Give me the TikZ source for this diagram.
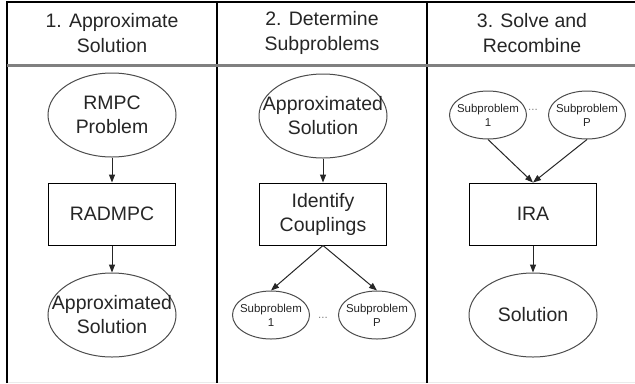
\documentclass[tikz,border=0pt]{standalone}
\usepackage{fontspec}
\setmainfont{Liberation Sans}
\usetikzlibrary{shapes.geometric,arrows.meta}
\begin{document}
\begin{tikzpicture}[x=0.75pt,y=-0.75pt,
  ell/.style={ellipse,draw=black!70,line width=0.75pt,inner sep=0pt,minimum width=96pt,minimum height=63pt},
  sell/.style={ellipse,draw=black!70,line width=0.75pt,inner sep=0pt,minimum width=57.75pt,minimum height=36pt},
  boxn/.style={rectangle,draw=black,line width=0.75pt,minimum width=95.25pt,minimum height=46.5pt,inner sep=0pt,font=\fontsize{14.6}{18}\selectfont,text=black!85,align=center},
  big/.style={font=\fontsize{14.6}{18}\selectfont,text=black!85,align=center,inner sep=0pt},
  head/.style={font=\fontsize{14.6}{19}\selectfont,text=black!85,align=center,inner sep=0pt},
  small/.style={font=\fontsize{8.6}{10.5}\selectfont,text=black!85,align=center,inner sep=0pt},
  dots/.style={font=\fontsize{8.6}{10.5}\selectfont,text=black!50,inner sep=0pt},
  arr/.style={-{Triangle[length=6pt,width=4.5pt]},line width=0.75pt,draw=black!85},
  frame/.style={line width=1pt,draw=black},
]
\useasboundingbox (0,0) rectangle (635,383);
\fill[white] (0,0) rectangle (635,383);
% frame
\draw[black!8,line width=1pt] (7,382.5) -- (635,382.5);
\draw[frame] (7,383) -- (7,2) -- (635,2);
\draw[frame] (217,2) -- (217,383);
\draw[frame] (427,2) -- (427,383);
\draw[black!50,line width=2.25pt] (7,65.5) -- (635,65.5);
% headers
\node[head] (h1) at (112,33) {1. Approximate\\Solution};
\node[head] (h2) at (322,33) {2. Determine\\Subproblems};
\node[head] (h3) at (532,33) {3. Solve and\\Recombine};
% column 1
\node[ell,label={[big]center:RMPC\\Problem}] (rp) at (112,115) {};
\node[boxn] (rad) at (112,214) {RADMPC};
\node[ell,label={[big]center:Approximated\\Solution}] (as1) at (112,315) {};
\draw[arr] (rp) -- (rad);
\draw[arr] (rad) -- (as1);
% column 2
\node[ell,label={[big]center:Approximated\\Solution}] (as2) at (323,116) {};
\node[boxn] (ic) at (323,214) {Identify\\Couplings};
\node[sell,label={[small]center:Subproblem\\1}] (s1a) at (271,315) {};
\node[sell,label={[small]center:Subproblem\\P}] (spa) at (377,315) {};
\node[dots] (d2) at (323,318) {...};
\draw[arr] (as2) -- (ic);
\draw[arr] (ic.south) -- (s1a.north);
\draw[arr] (ic.south) -- (spa.north);
% column 3
\node[sell,label={[small]center:Subproblem\\1}] (s1b) at (488,115) {};
\node[sell,label={[small]center:Subproblem\\P}] (spb) at (587,115) {};
\node[dots] (d3) at (533,110) {...};
\node[boxn] (ira) at (533,214) {IRA};
\node[ell,label={[big]center:Solution}] (sol) at (533,315) {};
\draw[arr] (s1b.south) -- (ira.north);
\draw[arr] (spb.south) -- (ira.north);
\draw[arr] (ira) -- (sol);
\end{tikzpicture}
\end{document}
